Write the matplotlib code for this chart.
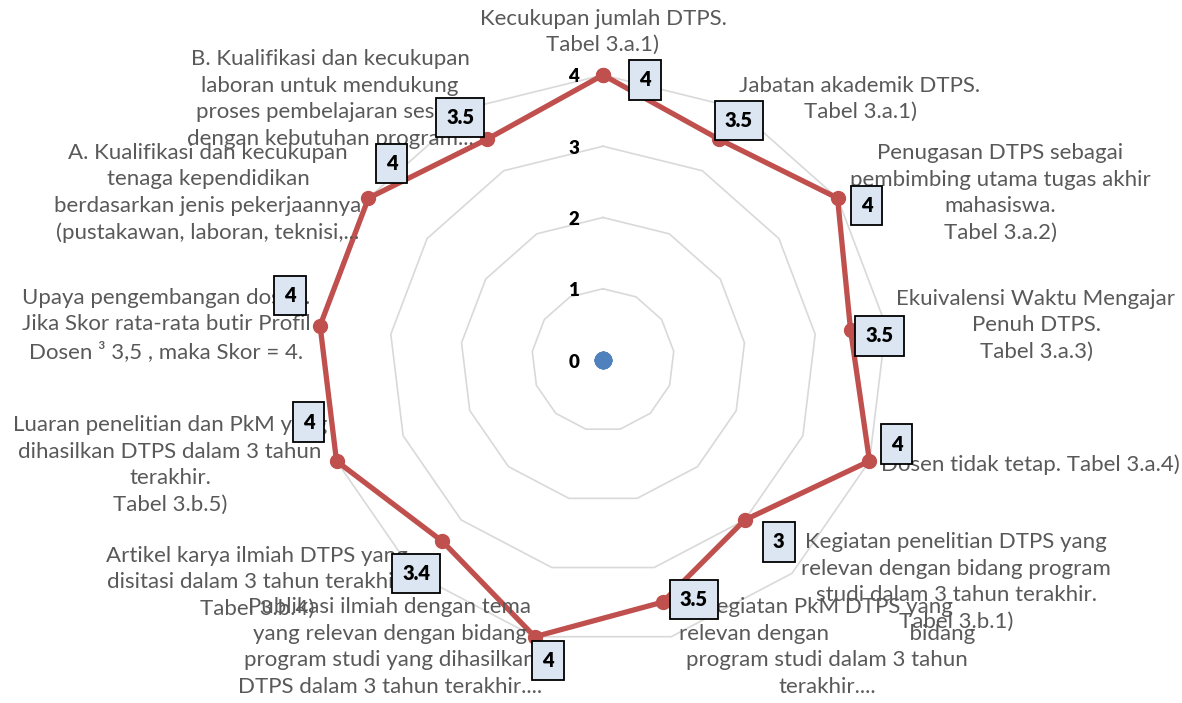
import numpy as np
import matplotlib.pyplot as plt

plt.rcParams['font.family'] = ['Lato', 'DejaVu Sans']

# --- data ---
kategori = [
    "Kecukupan jumlah DTPS.\nTabel 3.a.1)",
    "Jabatan akademik DTPS.\nTabel 3.a.1)",
    "Penugasan DTPS sebagai\npembimbing utama tugas akhir\nmahasiswa.\nTabel 3.a.2)",
    "Ekuivalensi Waktu Mengajar\nPenuh DTPS.\nTabel 3.a.3)",
    "Dosen tidak tetap. Tabel 3.a.4)",
    "Kegiatan penelitian DTPS yang\nrelevan dengan bidang program\nstudi dalam 3 tahun terakhir.\nTabel 3.b.1)",
    "Kegiatan PkM DTPS yang\nrelevan dengan              bidang\nprogram studi dalam 3 tahun\nterakhir....",
    "Publikasi ilmiah dengan tema\nyang relevan dengan bidang\nprogram studi yang dihasilkan\nDTPS dalam 3 tahun terakhir....",
    "Artikel karya ilmiah DTPS yang\ndisitasi dalam 3 tahun terakhir.\nTabel 3.b.4)",
    "Luaran penelitian dan PkM yang\ndihasilkan DTPS dalam 3 tahun\nterakhir.\nTabel 3.b.5)",
    "Upaya pengembangan dosen.\nJika Skor rata-rata butir Profil\nDosen \u00b3 3,5 , maka Skor = 4.",
    "A. Kualifikasi dan kecukupan\ntenaga kependidikan\nberdasarkan jenis pekerjaannya\n(pustakawan, laboran, teknisi,...",
    "B. Kualifikasi dan kecukupan\nlaboran untuk mendukung\nproses pembelajaran sesuai\ndengan kebutuhan program...",
]
skor = [4, 3.5, 4, 3.5, 4, 3, 3.5, 4, 3.4, 4, 4, 4, 3.5]
skor_nol = [0, 0, 0, 0, 0, 0, 0, 0, 0, 0, 0, 0, 0]
label_skor = ["4", "3.5", "4", "3.5", "4", "3", "3.5", "4", "3.4", "4", "4", "4", "3.5"]
tingkat = [0, 1, 2, 3, 4]

# --- layout (pixel offsets) ---
# category label centres relative to chart centre
pos_kategori = [(0, 328), (257, 261), (397, 167), (433, 35), (427, -105),
                (353, -222), (224, -287), (-213, -287), (-346, -222),
                (-433, -105), (-437, 35), (-395, 167), (-273, 261)]
# data label box offsets relative to point
pos_label = [(42, -5), (20, 19), (29, -7), (29, -6), (27, 17), (34, -22),
             (31, 3), (13, -24), (-26, -32), (-28, 39), (-30, 30), (23, 35),
             (-27, 22)]

W, H = 1182, 703
cx, cy, R = 603, 360, 285

fig = plt.figure(figsize=(W / 100, H / 100), dpi=100)
ax = fig.add_axes([(cx - R) / W, (H - cy - R) / H, 2 * R / W, 2 * R / H],
                  projection='polar')
ax.set_theta_zero_location('N')
ax.set_theta_direction(-1)
ax.set_ylim(0, 4)
ax.grid(False)
ax.set_xticks([])
ax.set_yticks([])
ax.spines['polar'].set_visible(False)
ax.patch.set_visible(False)

n = len(skor)
theta = np.linspace(0, 2 * np.pi, n, endpoint=False)
theta_closed = np.append(theta, theta[0])

# grid rings (polygon)
for lv in tingkat[1:]:
    ax.plot(theta_closed, [lv] * (n + 1), color='#d9d9d9', lw=1.2,
            zorder=1, clip_on=False)

# ring labels
for lv in tingkat:
    ax.annotate(str(lv), xy=(0, lv), xytext=(-29, -2),
                textcoords='offset pixels', ha='center', va='center',
                fontsize=13.5, fontweight='heavy', color='black')

# series
ax.plot(theta_closed, skor + [skor[0]], color='#c0504d', lw=3.8,
        marker='o', ms=10, zorder=3, clip_on=False)
ax.plot(theta, skor_nol, color='#4f81bd', lw=0, marker='o', ms=11.5,
        zorder=3, clip_on=False)

# data labels
for t, v, s, off in zip(theta, skor, label_skor, pos_label):
    ax.annotate(s, xy=(t, v), xytext=off, textcoords='offset pixels',
                ha='center', va='center', fontsize=14.5, fontweight='heavy',
                color='black', zorder=5,
                bbox=dict(boxstyle='square,pad=0.5', fc='#dce6f2',
                          ec='black', lw=1.3))

# category labels: fit font size to reference width
probe = fig.text(0, 0, "relevan dengan bidang program", fontsize=10)
fig.canvas.draw()
ukuran = 10 * 309 / probe.get_window_extent().width
probe.remove()

for teks, off in zip(kategori, pos_kategori):
    ax.annotate(teks, xy=(0, 0), xytext=off, textcoords='offset pixels',
                ha='center', va='center', fontsize=ukuran, color='#595959',
                linespacing=1.4, zorder=4, annotation_clip=False)

fig.savefig('out.png', dpi=100)
